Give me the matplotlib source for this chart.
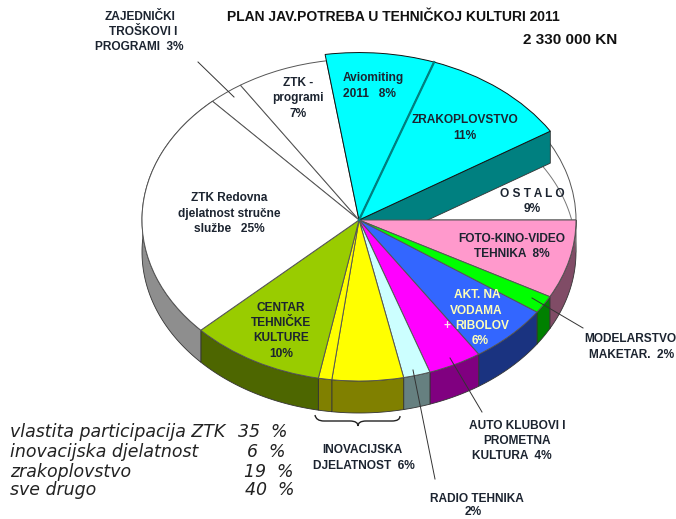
import matplotlib
matplotlib.use('Agg')
import matplotlib.pyplot as plt
from matplotlib.path import Path
from matplotlib.patches import PathPatch
import numpy as np

plt.rcParams['font.family'] = ['Liberation Sans', 'DejaVu Sans']

# Data - shares, clockwise from east
names = ['FOTO-KINO-VIDEO', 'MODELARSTVO', 'AKT. NA VODAMA', 'AUTO KLUBOVI', 'RADIO TEHNIKA',
         'INOVACIJSKA 1', 'INOVACIJSKA 2', 'CENTAR', 'ZTK Redovna', 'ZAJEDNICKI',
         'ZTK programi', 'Aviomiting', 'ZRAKOPLOVSTVO', 'OSTALO']
shares = [7.9, 1.8, 6.0, 4.0, 2.0, 5.3, 1.0, 10.0, 25.2, 2.6, 6.8, 7.8, 10.7, 8.9]
top_colors = ['#ff99cc', '#00ff00', '#3366ff', '#ff00ff', '#ccffff', '#ffff00', '#ffff00',
              '#99cc00', '#ffffff', '#ffffff', '#ffffff', '#00ffff', '#00ffff', '#ffffff']
wall_colors = ['#804c66', '#008000', '#1a3380', '#800080', '#668080', '#808000', '#808000',
               '#4d6600', '#8e8e8e', '#808080', '#808080', '#008080', '#008080', '#808080']
raised = ['Aviomiting', 'ZRAKOPLOVSTVO']
behind_wall = ['ZAJEDNICKI', 'ZTK programi', 'OSTALO']

table_names = ['vlastita participacija ZTK', 'inovacijska djelatnost', 'zrakoplovstvo', 'sve drugo']
table_values = ['35  %', '6  %', '19  %', '40  %']

W, H = 676, 519
CX, CY, RX, RY, DEPTH = 359, 220, 217, 161, 32
d = DEPTH / RY
LIFT = 1.04

fig = plt.figure(figsize=(W / 100, H / 100), dpi=100, facecolor='white')

# pie axes: one unit is RX px across and RY px down, so the circle becomes the tilted disc
ax = fig.add_axes([0, 0, 1, 1])
wedges, _ = ax.pie(shares, colors=top_colors, startangle=0, counterclock=False, radius=1,
                   frame=True, wedgeprops=dict(edgecolor='#555555', linewidth=0.7))
ax.set_aspect('auto')
ax.set_xlim(-CX / RX, (W - CX) / RX)
ax.set_ylim((CY - H) / RY, CY / RY)
ax.axis('off')

edges = np.cumsum([0] + shares) * 3.6
for w, name in zip(wedges, names):
    w.set_zorder(5)
    if name in behind_wall:
        w.set_zorder(3)
    if name in raised:
        w.set_radius(LIFT)
        w.set_zorder(6)
        w.set_edgecolor('#111111')

# side walls of the front half
for i, c in enumerate(wall_colors):
    a0, a1 = edges[i], edges[i + 1]
    if a0 >= 180:
        continue
    t = np.radians(np.linspace(a0, a1, 80))
    x, y = np.cos(t), -np.sin(t)
    ax.fill(np.r_[x, x[::-1]], np.r_[y, y[::-1] - d], color=c, ec='#333333', lw=0.6, zorder=2)

# wall exposed by the raised ZRAKOPLOVSTVO slice
i = names.index('ZRAKOPLOVSTVO')
t = np.radians(edges[i + 1])
rx, ry = LIFT * np.cos(t), -LIFT * np.sin(t)
ax.fill([0, rx, rx, 0], [0, ry, ry - d, -d], color='#008080', ec='#333333', lw=0.6, zorder=4)
t = np.radians(edges[i])
ax.plot([0, LIFT * np.cos(t)], [0, -LIFT * np.sin(t)], color='#008080', lw=1.6, zorder=7)

# lower rim seen through the white OSTALO slice
t = np.radians(np.linspace(edges[i + 1], 360, 40))
ax.plot(np.cos(t), -np.sin(t) - d, color='#777777', lw=0.7, zorder=3.5)

# overlay in picture pixels for texts and leaders
tx = fig.add_axes([0, 0, 1, 1], facecolor='none')
tx.set_xlim(0, W)
tx.set_ylim(H, 0)
tx.axis('off')

dark = '#1c2430'
labels = [
    ('ZAJEDNIČKI', 140, 17), ('TROŠKOVI I', 143, 32), ('PROGRAMI  3%', 139, 47),
    ('ZTK -', 298, 83), ('programi', 298, 98), ('7%', 298, 114),
    ('ZRAKOPLOVSTVO', 465, 120), ('11%', 465, 136),
    ('O S T A L O', 532, 194), ('9%', 532, 209),
    ('ZTK Redovna', 229, 198), ('djelatnost stručne', 229, 214), ('službe   25%', 229, 229),
    ('FOTO-KINO-VIDEO', 512, 239), ('TEHNIKA  8%', 512, 254),
    ('CENTAR', 281, 308), ('TEHNIČKE', 281, 323), ('KULTURE', 281, 338), ('10%', 281, 354),
    ('MODELARSTVO', 630, 339), ('MAKETAR.  2%', 632, 355),
    ('AUTO KLUBOVI I', 517, 426), ('PROMETNA', 517, 441), ('KULTURA  4%', 512, 456),
    ('INOVACIJSKA', 362, 450), ('DJELATNOST  6%', 364, 466),
    ('RADIO TEHNIKA', 477, 499), ('2%', 473, 512),
]
for s, x, y in labels:
    tx.text(x, y, s, ha='center', va='center', fontsize=8.6, fontweight='bold', color=dark)

tx.text(343, 78, 'Aviomiting', ha='left', va='center', fontsize=8.6, fontweight='bold', color=dark)
tx.text(343, 94, '2011   8%', ha='left', va='center', fontsize=8.6, fontweight='bold', color=dark)

light = '#ffffb8'
for s, x, y in [('AKT. NA', 477, 295), ('VODAMA', 476, 311), ('RIBOLOV', 482, 326), ('6%', 480, 341)]:
    tx.text(x, y, s, ha='center', va='center', fontsize=8.6, fontweight='bold', color=light)
tx.text(447, 326, '+', ha='center', va='center', fontsize=8.6, fontweight='bold', color='#ffe0f0')

tx.text(227, 17, 'PLAN JAV.POTREBA U TEHNIČKOJ KULTURI 2011', ha='left', va='center',
        fontsize=10, fontweight='bold', color='#111111')
tx.text(523, 40, '2 330 000 KN', ha='left', va='center', fontsize=11, fontweight='bold', color='#111111')

# leader lines
leaders = [((198, 62), (234, 97)), ((532, 298), (583, 328)), ((450, 358), (482, 412)), ((413, 370), (435, 479))]
for p, q in leaders:
    tx.plot([p[0], q[0]], [p[1], q[1]], color='#333333', lw=0.7)

# brace under the INOVACIJSKA slices
verts = [(315, 415), (316, 421), (324, 421), (350, 421), (358, 421), (358, 426),
         (358, 421), (366, 421), (392, 421), (400, 421), (400, 416)]
codes = [Path.MOVETO, Path.CURVE3, Path.CURVE3, Path.LINETO, Path.CURVE3, Path.CURVE3,
         Path.CURVE3, Path.CURVE3, Path.LINETO, Path.CURVE3, Path.CURVE3]
tx.add_patch(PathPatch(Path(verts, codes), fc='none', ec='#222222', lw=1.0))

# summary table
ty = [432, 452, 472, 490]
vx = [238, 247, 244, 245]
for s, v, y, x in zip(table_names, table_values, ty, vx):
    tx.text(10, y, s, ha='left', va='center', fontsize=12.5, style='oblique', family='DejaVu Sans', color='#222222')
    tx.text(x, y, v, ha='left', va='center', fontsize=12.5, style='oblique', family='DejaVu Sans', color='#222222')

fig.savefig('out.png', dpi=100, facecolor='white')
